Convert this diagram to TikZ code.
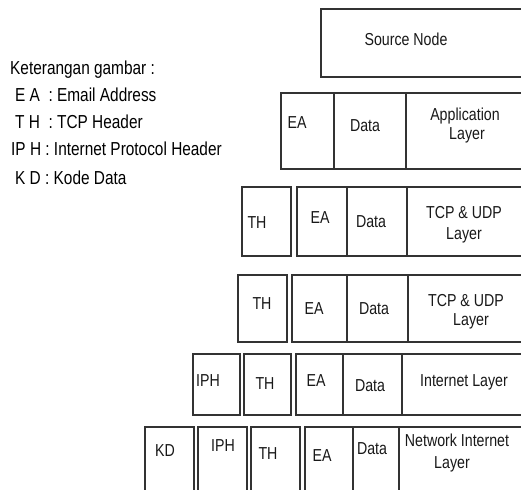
\documentclass[tikz,border=0pt]{standalone}
\usepackage{fontspec}
\setmainfont{Liberation Sans}
\usetikzlibrary{fit}
\newcommand{\vst}[1]{\scalebox{1}[1.22]{#1}}
\tikzset{
  box/.style={draw=black!80, line width=1.2pt, inner sep=0pt, outer sep=0pt},
  lbl/.style={inner sep=0pt, text height=12.5pt, text depth=0pt, font=\fontsize{14.2}{16}\selectfont, text=black!90},
  leg/.style={inner sep=0pt, anchor=base west, font=\fontsize{15.4}{18}\selectfont, text=black}
}
\begin{document}
\begin{tikzpicture}[x=1pt,y=-1pt]
\useasboundingbox (0,0) rectangle (521,489);
\fill[white] (0,0) rectangle (521,489);
\clip (0,0) rectangle (521,489);

% legend
\node[leg] (l0) at (10,75) {\vst{Keterangan gambar :}};
\node[leg] (l1) at (15,102) {\vst{E A \ : Email Address}};
\node[leg] (l2) at (15,129) {\vst{T H \ : TCP Header}};
\node[leg] (l3) at (11,156) {\vst{IP H : Internet Protocol Header}};
\node[leg] (l4) at (15,184) {\vst{K D : Kode Data}};

% source node
\node[box, fit={(321,9) (545,77)}] (src) {};
\node[lbl] (srcT) at (406,39) {\vst{Source Node}};

% application layer
\node[box, fit={(281,93) (334,169)}] (aEA) {};
\node[box, fit={(334,93) (406,169)}] (aD) {};
\node[box, fit={(406,93) (545,169)}] (aL) {};
\node[lbl] (aEAt) at (297,122) {\vst{EA}};
\node[lbl] (aDt) at (365,125) {\vst{Data}};
\node[lbl] (aLt1) at (465,114.5) {\vst{Application}};
\node[lbl] (aLt2) at (467,133) {\vst{Layer}};

% TCP & UDP layer 1
\node[box, fit={(242,187) (291,256)}] (bTH) {};
\node[box, fit={(297,187) (347,256)}] (bEA) {};
\node[box, fit={(347,187) (407,256)}] (bD) {};
\node[box, fit={(407,187) (545,256)}] (bL) {};
\node[lbl] (bTHt) at (257,222) {\vst{TH}};
\node[lbl] (bEAt) at (320,217) {\vst{EA}};
\node[lbl] (bDt) at (371,221) {\vst{Data}};
\node[lbl] (bLt1) at (464,212) {\vst{TCP \& UDP}};
\node[lbl] (bLt2) at (464,233) {\vst{Layer}};

% TCP & UDP layer 2
\node[box, fit={(238,275) (287,342)}] (cTH) {};
\node[box, fit={(292,275) (347,342)}] (cEA) {};
\node[box, fit={(347,275) (408,342)}] (cD) {};
\node[box, fit={(408,275) (545,342)}] (cL) {};
\node[lbl] (cTHt) at (262,303) {\vst{TH}};
\node[lbl] (cEAt) at (314,308) {\vst{EA}};
\node[lbl] (cDt) at (374,308) {\vst{Data}};
\node[lbl] (cLt1) at (466,300) {\vst{TCP \& UDP}};
\node[lbl] (cLt2) at (471,319) {\vst{Layer}};

% Internet layer
\node[box, fit={(193,354) (240,415)}] (dIPH) {};
\node[box, fit={(244,354) (291,415)}] (dTH) {};
\node[box, fit={(296,354) (343,415)}] (dEA) {};
\node[box, fit={(343,354) (402,415)}] (dD) {};
\node[box, fit={(402,354) (545,415)}] (dL) {};
\node[lbl] (dIPHt) at (208,380) {\vst{IPH}};
\node[lbl] (dTHt) at (265,383) {\vst{TH}};
\node[lbl] (dEAt) at (316,380) {\vst{EA}};
\node[lbl] (dDt) at (370,385) {\vst{Data}};
\node[lbl] (dLt) at (464,380) {\vst{Internet Layer}};

% Network Internet layer
\node[box, fit={(145,427) (194,505)}] (eKD) {};
\node[box, fit={(198,427) (247,505)}] (eIPH) {};
\node[box, fit={(251,427) (300,505)}] (eTH) {};
\node[box, fit={(305,427) (353,505)}] (eEA) {};
\node[box, fit={(353,427) (399,505)}] (eD) {};
\node[box, fit={(399,427) (545,505)}] (eL) {};
\node[lbl] (eKDt) at (165,450) {\vst{KD}};
\node[lbl] (eIPHt) at (223,445) {\vst{IPH}};
\node[lbl] (eTHt) at (268,453) {\vst{TH}};
\node[lbl] (eEAt) at (322,455) {\vst{EA}};
\node[lbl] (eDt) at (372,448) {\vst{Data}};
\node[lbl] (eLt1) at (457,440) {\vst{Network Internet}};
\node[lbl] (eLt2) at (452,462) {\vst{Layer}};
\end{tikzpicture}
\end{document}
